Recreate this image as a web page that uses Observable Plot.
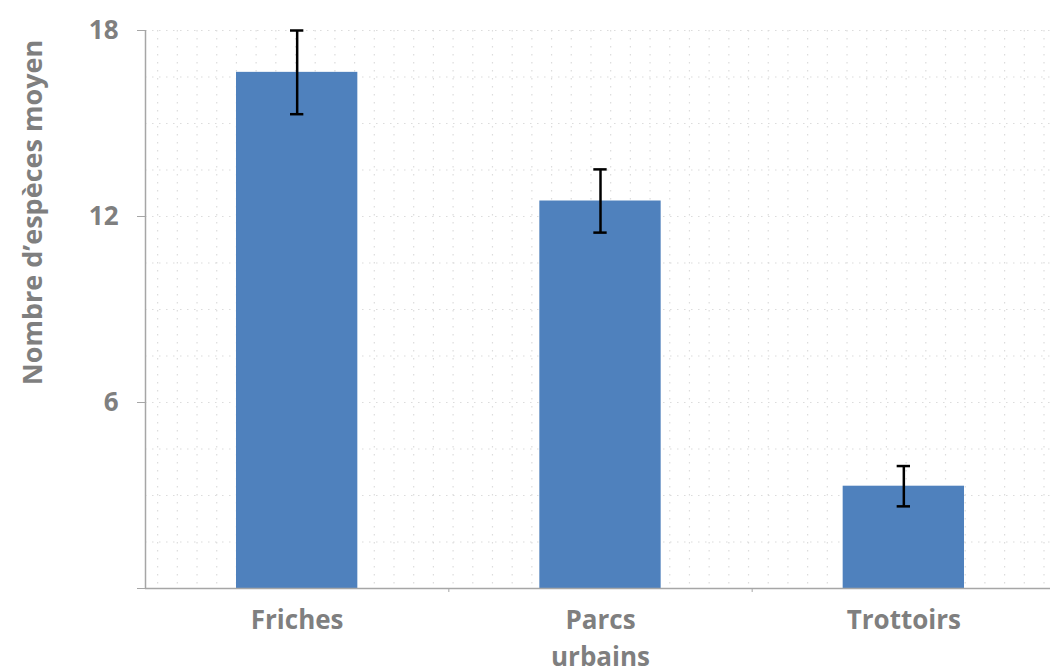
<!DOCTYPE html>
<html><head><meta charset="utf-8">
<script src="https://cdn.jsdelivr.net/npm/d3@7"></script>
<script src="https://cdn.jsdelivr.net/npm/@observablehq/plot@0.6"></script>
<style>body{margin:0;background:#fff;} svg{overflow:visible;}</style>
</head><body><div id="chart"></div>
<script>
const categories = ["Friches", "Parcs\nurbains", "Trottoirs"];
const means = [16.65, 12.5, 3.3];
const errors = [1.35, 1.02, 0.65];
const yTicks = [0, 6, 12, 18];
const yLabel = "Nombre d’espèces moyen";
const data = categories.map((c, i) => ({i, c, m: means[i], e: errors[i]}));
const gray = "#7f7f7f";
const axisGray = "#a6a6a6";
const gridGray = "#dcdcdc";
const chart = Plot.plot({
  width: 1050, height: 672,
  marginLeft: 145, marginRight: -5, marginTop: 30, marginBottom: 84,
  style: {fontFamily: "'Open Sans', sans-serif", fontWeight: "bold", fontSize: "26px", color: gray, background: "white"},
  x: {domain: [-0.5, 2.5], axis: null},
  y: {domain: [0, 18], axis: null},
  marks: [
    Plot.gridY(d3.range(1.5, 18.01, 1.5), {stroke: gridGray, strokeOpacity: 1, strokeDasharray: "1.5,5.5", strokeWidth: 1.2}),
    Plot.gridX(d3.range(-0.46, 2.5, 1 / 15.4), {stroke: gridGray, strokeOpacity: 1, strokeDasharray: "1.5,6.5", strokeWidth: 1.2}),
    Plot.rectY(data, {x1: d => d.i - 0.2, x2: d => d.i + 0.2, y: "m", fill: "#4f81bd"}),
    Plot.ruleX(data, {x: "i", y1: d => d.m - d.e, y2: d => d.m + d.e, stroke: "black", strokeWidth: 2.5}),
    Plot.ruleY(data, {y: d => d.m + d.e, x1: d => d.i - 0.022, x2: d => d.i + 0.022, stroke: "black", strokeWidth: 2.5}),
    Plot.ruleY(data, {y: d => d.m - d.e, x1: d => d.i - 0.022, x2: d => d.i + 0.022, stroke: "black", strokeWidth: 2.5}),
    Plot.ruleX([-0.5], {stroke: axisGray, strokeWidth: 1.5}),
    Plot.ruleY([0], {stroke: axisGray, strokeWidth: 1.5}),
    Plot.axisY({ticks: yTicks, tickSize: 8, tickPadding: 19, stroke: axisGray, fontSize: 26, fill: gray, label: null, tickFormat: d => d === 0 ? "" : d}),
    Plot.axisX({ticks: [0.5, 1.5], tickSize: 4, tickFormat: () => "", stroke: axisGray, label: null}),
    Plot.axisX({ticks: [0, 1, 2], tickSize: 0, tickPadding: 14, tickFormat: i => categories[i], lineHeight: 1.42, fontSize: 26, fill: gray, label: null}),
    Plot.text([yLabel], {frameAnchor: "left", textAnchor: "middle", rotate: -90, dx: -112, dy: -97, fontSize: 27, fill: gray, fontWeight: "bold"})
  ]
});
document.getElementById("chart").append(chart);
</script>
</body></html>
